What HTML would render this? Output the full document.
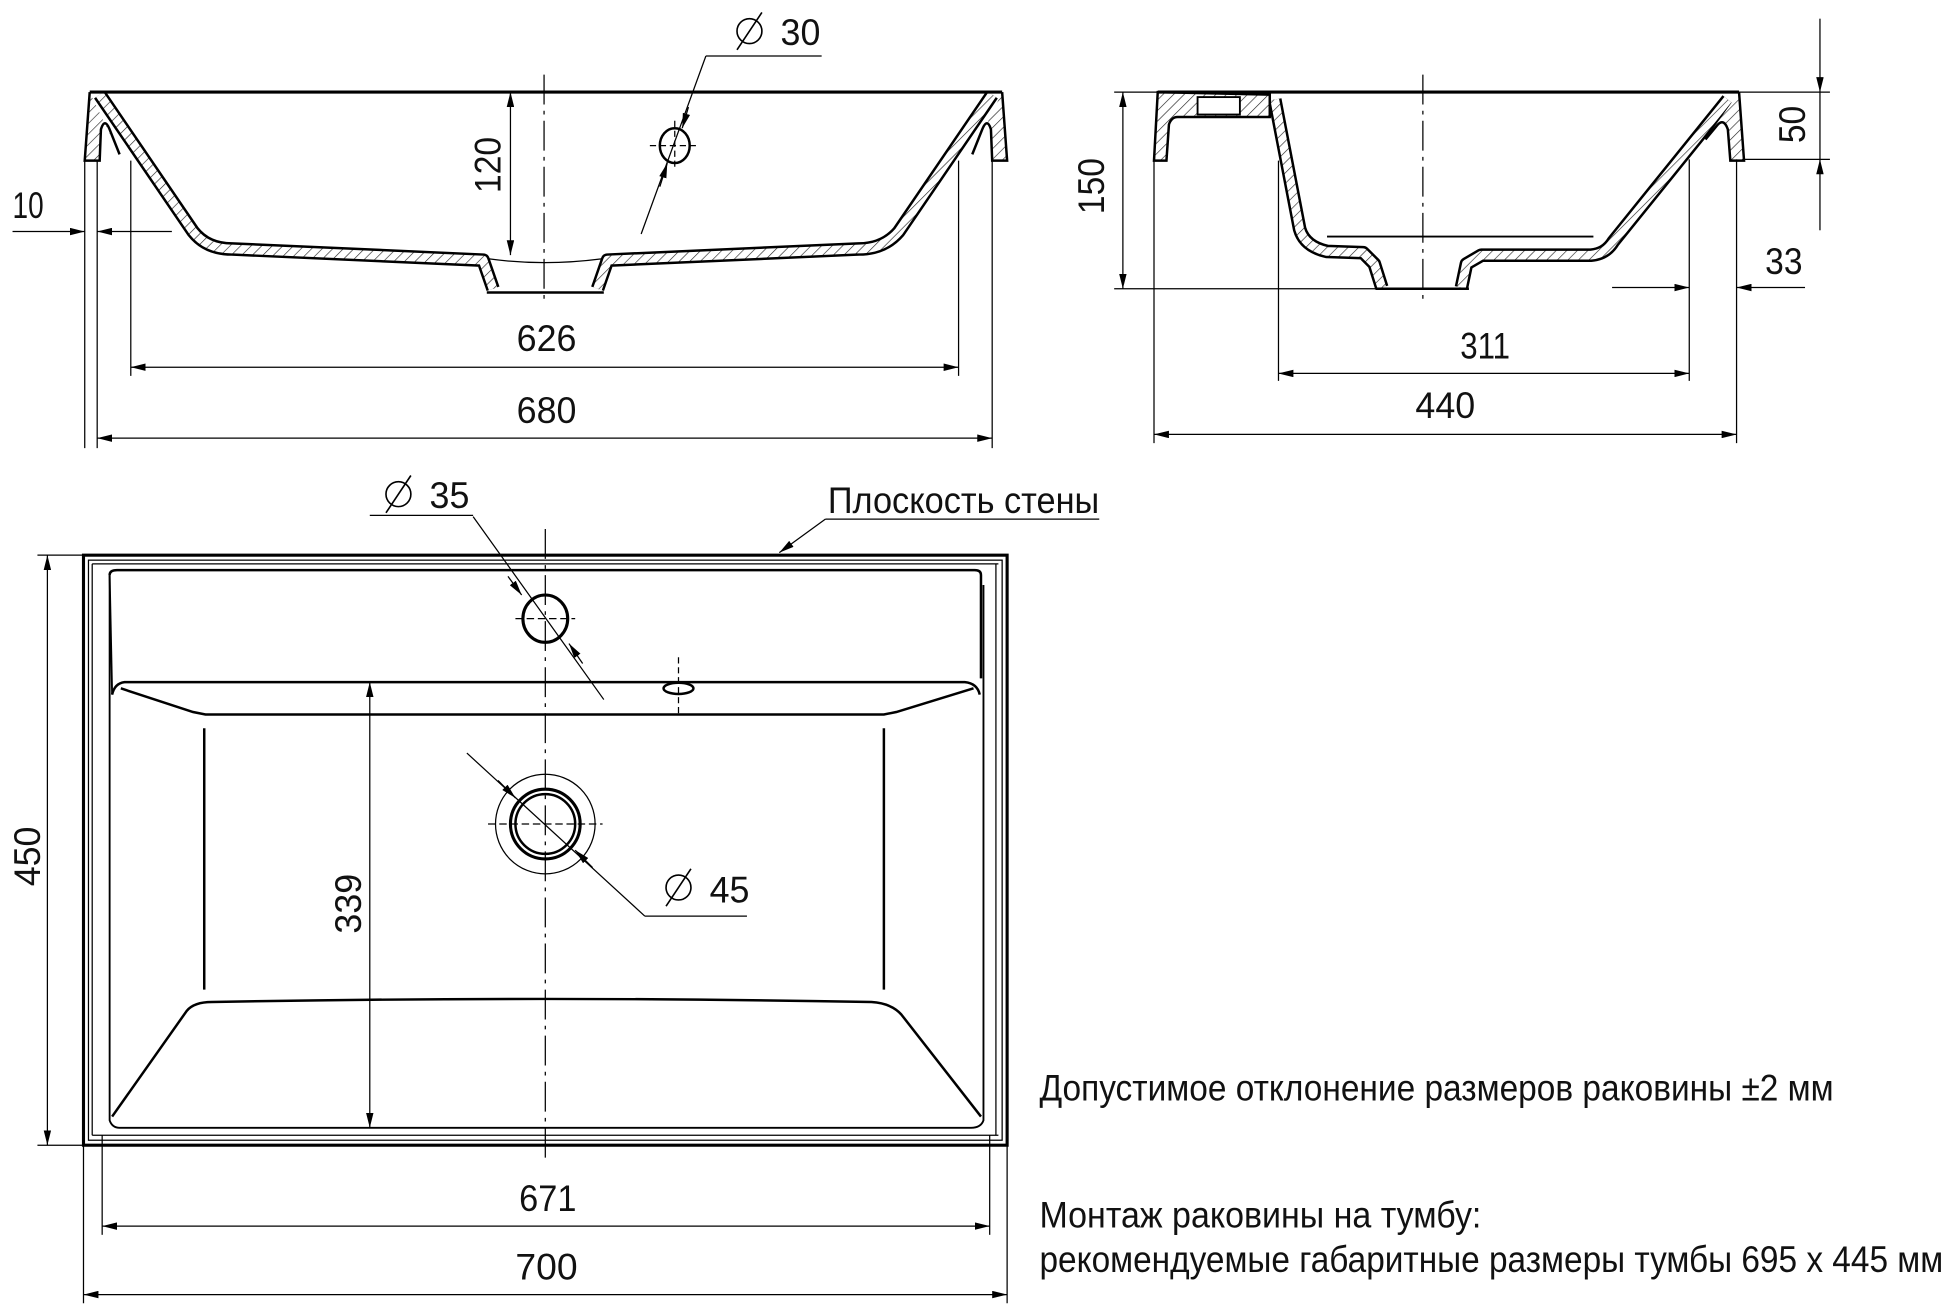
<!DOCTYPE html>
<html><head><meta charset="utf-8"><style>
html,body{margin:0;padding:0;background:#fff;}
svg{display:block;}
text{font-family:"Liberation Sans","DejaVu Sans",sans-serif;fill:#111;}
</style></head><body>
<svg width="1952" height="1312" viewBox="0 0 1568 1054" xmlns="http://www.w3.org/2000/svg">
<defs>
<pattern id="h" patternUnits="userSpaceOnUse" width="6" height="6" patternTransform="rotate(45)">
<rect width="6" height="6" fill="#fff"/><line x1="0" y1="0" x2="0" y2="6" stroke="#222" stroke-width="1"/>
</pattern>
<marker id="a" viewBox="0 0 12 6" refX="12" refY="3" markerWidth="12" markerHeight="6" orient="auto" markerUnits="userSpaceOnUse"><path d="M0,0 L12,3 L0,6z" fill="#000"/></marker>
<marker id="b" viewBox="0 0 12 6" refX="0" refY="3" markerWidth="12" markerHeight="6" orient="auto" markerUnits="userSpaceOnUse"><path d="M12,0 L0,3 L12,6z" fill="#000"/></marker>
</defs>

<g fill="none" stroke="#000" stroke-width="1">
<!-- ===== LEFT SECTION ===== -->
<line x1="437" y1="60" x2="437" y2="245" stroke-dasharray="24,5,3,5"/>
<path d="M80,76 L155,186 Q166,200 186,200 L388,209 L396,232 M480,232 L488,209 L690,200 Q710,200 722,186 L797,76" stroke-width="11" stroke-linejoin="round"/>
<path d="M80,76 L155,186 Q166,200 186,200 L388,209 L396,232 M480,232 L488,209 L690,200 Q710,200 722,186 L797,76" stroke="url(#h)" stroke-width="7" stroke-linejoin="round"/>
<path d="M72,74 L68,129 L80,129 L81,104 Q84,94 88,104 L96,124" fill="url(#h)" stroke-width="2"/>
<path d="M805,74 L809,129 L797,129 L796,104 Q793,94 789,104 L781,124" fill="url(#h)" stroke-width="2"/>
<line x1="72" y1="74" x2="805" y2="74" stroke-width="2.5"/>
<line x1="391" y1="235" x2="485" y2="235" stroke-width="2"/>
<path d="M393,208 Q437,214 483,208" stroke-width="1"/>
<!-- 120 -->
<line x1="410" y1="74" x2="410" y2="205" marker-start="url(#b)" marker-end="url(#a)"/>
<!-- hole 30 -->
<ellipse cx="542" cy="117" rx="12" ry="14" stroke-width="2"/>
<line x1="522" y1="117" x2="562" y2="117" stroke-dasharray="5,3"/>
<line x1="542" y1="97" x2="542" y2="137" stroke-dasharray="5,3"/>
<line x1="515" y1="188" x2="567" y2="45"/>
<line x1="567" y1="45" x2="660" y2="45"/>
<path d="M553,86 L548,103" marker-end="url(#a)"/>
<path d="M530,150 L536,131" marker-end="url(#a)"/>
<!-- ext lines -->
<line x1="68" y1="129" x2="68" y2="360"/>
<line x1="78" y1="129" x2="78" y2="360"/>
<line x1="105" y1="129" x2="105" y2="302"/>
<line x1="770" y1="129" x2="770" y2="302"/>
<line x1="797" y1="129" x2="797" y2="360"/>
<line x1="10" y1="186" x2="68" y2="186" marker-end="url(#a)"/>
<line x1="138" y1="186" x2="78" y2="186" marker-end="url(#a)"/>
<line x1="105" y1="295" x2="770" y2="295" marker-start="url(#b)" marker-end="url(#a)"/>
<line x1="78" y1="352" x2="797" y2="352" marker-start="url(#b)" marker-end="url(#a)"/>

<!-- ===== RIGHT SECTION ===== -->
<line x1="1143" y1="60" x2="1143" y2="242" stroke-dasharray="24,5,3,5"/>
<path d="M1024,80 L1044,184 Q1048,198 1066,202 L1095,203 L1104,212 L1110,231 M1174,231 L1178,212 L1190,205 L1278,205 Q1290,204 1296,194 L1388,80" stroke-width="11" stroke-linejoin="round"/>
<path d="M1024,80 L1044,184 Q1048,198 1066,202 L1095,203 L1104,212 L1110,231 M1174,231 L1178,212 L1190,205 L1278,205 Q1290,204 1296,194 L1388,80" stroke="url(#h)" stroke-width="7" stroke-linejoin="round"/>
<path d="M930,74 L927,129 L937,129 L939,100 Q941,94 946,94 L1020,94 L1020,76 Z" fill="url(#h)" stroke-width="2"/>
<rect x="962" y="78" width="34" height="14" fill="#fff" stroke-width="1.5"/>
<path d="M1397,74 L1401,129 L1390,129 L1388,104 Q1385,95 1380,100 L1370,112" fill="url(#h)" stroke-width="2"/>
<line x1="930" y1="74" x2="1397" y2="74" stroke-width="2.5"/>
<line x1="1105" y1="232" x2="1180" y2="232" stroke-width="2"/>
<line x1="1066" y1="190" x2="1280" y2="190" stroke-width="1.5"/>
<!-- ext -->
<line x1="895" y1="74" x2="930" y2="74"/>
<line x1="895" y1="232" x2="1150" y2="232"/>
<line x1="1397" y1="74" x2="1470" y2="74"/>
<line x1="1400" y1="128" x2="1470" y2="128"/>
<line x1="902" y1="74" x2="902" y2="232" marker-start="url(#b)" marker-end="url(#a)"/>
<line x1="1462" y1="15" x2="1462" y2="74" marker-end="url(#a)"/>
<line x1="1462" y1="185" x2="1462" y2="128" marker-end="url(#a)"/>
<line x1="1462" y1="74" x2="1462" y2="128"/>
<line x1="927" y1="129" x2="927" y2="356"/>
<line x1="1027" y1="129" x2="1027" y2="306"/>
<line x1="1357" y1="128" x2="1357" y2="306"/>
<line x1="1395" y1="128" x2="1395" y2="356"/>
<line x1="1295" y1="231" x2="1357" y2="231" marker-end="url(#a)"/>
<line x1="1450" y1="231" x2="1395" y2="231" marker-end="url(#a)"/>
<line x1="1027" y1="300" x2="1357" y2="300" marker-start="url(#b)" marker-end="url(#a)"/>
<line x1="927" y1="349" x2="1395" y2="349" marker-start="url(#b)" marker-end="url(#a)"/>

<!-- ===== TOP VIEW ===== -->
<rect x="67" y="446" width="742" height="474" stroke-width="2.5"/>
<rect x="71" y="450" width="734" height="466" stroke-width="1"/>
<line x1="74" y1="453" x2="802" y2="453"/>
<line x1="74" y1="912" x2="802" y2="912"/>
<line x1="800" y1="453" x2="800" y2="912"/>
<line x1="74" y1="453" x2="74" y2="912"/>
<path d="M88,462 Q88,458 94,458 L783,458 Q788,458 788,462 L788,545" stroke-width="2"/>
<path d="M88,462 L88,900 Q90,906 96,906 L780,906 Q788,906 790,900 L790,470" stroke-width="1.5"/>
<line x1="88" y1="462" x2="90" y2="558" stroke-width="1.5"/>
<path d="M90,558 Q92,549 100,548 L775,548 Q785,549 787,558" stroke-width="2"/>
<path d="M97,553 L155,572 L165,574 L710,574 L720,572 L782,553" stroke-width="2"/>
<line x1="164" y1="585" x2="164" y2="795" stroke-width="2"/>
<line x1="710" y1="585" x2="710" y2="795" stroke-width="2"/>
<path d="M90,897 L150,812 Q156,805 170,805 Q437,800 700,805 Q716,806 724,815 L788,897" stroke-width="2"/>
<line x1="438" y1="425" x2="438" y2="935" stroke-dasharray="24,5,3,5"/>
<!-- hole 35 -->
<ellipse cx="438" cy="497" rx="18" ry="19" stroke-width="2.5"/>
<line x1="414" y1="497" x2="462" y2="497" stroke-dasharray="6,3"/>
<line x1="485" y1="562" x2="380" y2="415"/>
<line x1="297" y1="414" x2="380" y2="414"/>
<path d="M408,463 L419,478" marker-end="url(#a)"/>
<path d="M468,533 L457,517" marker-end="url(#a)"/>
<!-- overflow -->
<ellipse cx="545" cy="553" rx="12" ry="4.5" stroke-width="2"/>
<line x1="545" y1="528" x2="545" y2="575" stroke-dasharray="5,3"/>
<!-- drain -->
<circle cx="438" cy="662" r="40"/>
<circle cx="438" cy="662" r="28" stroke-width="2.5"/>
<circle cx="438" cy="662" r="24" stroke-width="2"/>
<line x1="392" y1="662" x2="484" y2="662" stroke-dasharray="6,3"/>
<line x1="375" y1="605" x2="518" y2="736"/>
<line x1="518" y1="736" x2="600" y2="736"/>
<path d="M400,627 L414,641" marker-end="url(#a)"/>
<path d="M476,697 L462,683" marker-end="url(#a)"/>
<!-- 339 -->
<line x1="297" y1="548" x2="297" y2="906" marker-start="url(#b)" marker-end="url(#a)"/>
<!-- 450 -->
<line x1="30" y1="446" x2="67" y2="446"/>
<line x1="30" y1="920" x2="67" y2="920"/>
<line x1="38" y1="446" x2="38" y2="920" marker-start="url(#b)" marker-end="url(#a)"/>
<!-- bottom dims -->
<line x1="67" y1="920" x2="67" y2="1047"/>
<line x1="809" y1="920" x2="809" y2="1047"/>
<line x1="82" y1="912" x2="82" y2="992"/>
<line x1="795" y1="912" x2="795" y2="992"/>
<line x1="82" y1="985" x2="795" y2="985" marker-start="url(#b)" marker-end="url(#a)"/>
<line x1="67" y1="1040" x2="809" y2="1040" marker-start="url(#b)" marker-end="url(#a)"/>
<!-- wall plane -->
<line x1="663" y1="417" x2="883" y2="417"/>
<line x1="663" y1="417" x2="626" y2="444" marker-end="url(#a)"/>
<!-- diameter symbols -->
<g stroke-width="1.3">
<circle cx="602" cy="25" r="10"/><line x1="592" y1="40" x2="612" y2="10"/>
<circle cx="320" cy="397" r="10"/><line x1="310" y1="412" x2="330" y2="382"/>
<circle cx="545" cy="713" r="10"/><line x1="535" y1="728" x2="555" y2="698"/>
</g>
</g>

<g font-size="30">
<text x="627" y="36" textLength="32" lengthAdjust="spacingAndGlyphs">30</text>
<text x="345" y="408" textLength="32" lengthAdjust="spacingAndGlyphs">35</text>
<text x="570" y="725" textLength="32" lengthAdjust="spacingAndGlyphs">45</text>
<text x="10" y="175" textLength="25" lengthAdjust="spacingAndGlyphs">10</text>
<text x="415" y="282" textLength="48" lengthAdjust="spacingAndGlyphs">626</text>
<text x="415" y="340" textLength="48" lengthAdjust="spacingAndGlyphs">680</text>
<text x="1173" y="288" textLength="40" lengthAdjust="spacingAndGlyphs">311</text>
<text x="1137" y="336" textLength="48" lengthAdjust="spacingAndGlyphs">440</text>
<text x="1418" y="220" textLength="30" lengthAdjust="spacingAndGlyphs">33</text>
<text x="417" y="973" textLength="46" lengthAdjust="spacingAndGlyphs">671</text>
<text x="414" y="1028" textLength="50" lengthAdjust="spacingAndGlyphs">700</text>
<text transform="translate(402,155) rotate(-90)" textLength="45" lengthAdjust="spacingAndGlyphs">120</text>
<text transform="translate(887,172) rotate(-90)" textLength="45" lengthAdjust="spacingAndGlyphs">150</text>
<text transform="translate(1450,115) rotate(-90)" textLength="30" lengthAdjust="spacingAndGlyphs">50</text>
<text transform="translate(290,750) rotate(-90)" textLength="48" lengthAdjust="spacingAndGlyphs">339</text>
<text transform="translate(32,712) rotate(-90)" textLength="48" lengthAdjust="spacingAndGlyphs">450</text>
<text x="665" y="412" textLength="218" lengthAdjust="spacingAndGlyphs">Плоскость стены</text>
<text x="835" y="884" textLength="638" lengthAdjust="spacingAndGlyphs">Допустимое отклонение размеров раковины ±2 мм</text>
<text x="835" y="986" textLength="355" lengthAdjust="spacingAndGlyphs">Монтаж раковины на тумбу:</text>
<text x="835" y="1022" textLength="726" lengthAdjust="spacingAndGlyphs">рекомендуемые габаритные размеры тумбы 695 х 445 мм</text>
</g>
</svg>
</body></html>
